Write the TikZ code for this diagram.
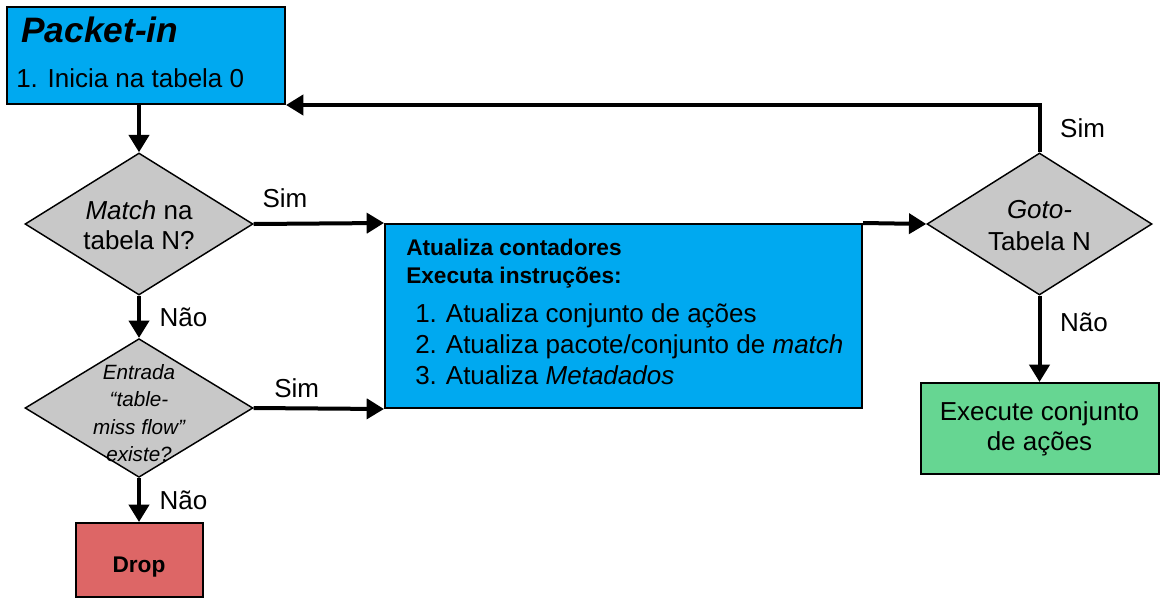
\documentclass[tikz,border=0pt]{standalone}
\usepackage{fontspec}
\setmainfont{Liberation Sans}
\usetikzlibrary{shapes.geometric,arrows.meta}

\definecolor{azul}{HTML}{00A9F0}
\definecolor{cinza}{HTML}{C8C8C8}
\definecolor{vermelho}{HTML}{DD6666}
\definecolor{verde}{HTML}{66D692}

\tikzset{
  caixa/.style = {rectangle, draw=black, line width=1.5pt, inner sep=0pt},% caixa base
  caixa_a/.style = {caixa, fill=azul},% caixa azul
  caixa_v/.style = {caixa, fill=verde, align=center,
    font=\fontsize{19.5}{22.5}\selectfont},% caixa verde
  caixa_r/.style = {caixa, fill=vermelho},% caixa vermelha
  decisao/.style = {diamond, draw=black, fill=cinza, line width=1.1pt, inner sep=0pt,
    minimum width=171pt, minimum height=106.5pt},% losango de decisao
  texto/.style = {inner sep=0pt, font=\fontsize{19.5}{22.5}\selectfont},% texto normal
  texto_b/.style = {inner sep=0pt, font=\bfseries\fontsize{17}{20}\selectfont},% texto negrito
  texto_d/.style = {inner sep=0pt, align=center, font=\fontsize{19.5}{22.5}\selectfont},% texto do losango
  rotulo/.style = {inner sep=1pt, font=\fontsize{19.5}{22.5}\selectfont},% Sim / Nao
  seta/.style = {line width=3pt, -{Triangle[length=13pt,width=15pt]}}
}

\begin{document}
\begin{tikzpicture}[x=0.75pt, y=-0.75pt]
  \useasboundingbox (0,0) rectangle (1170,607);

  % caixas
  \node [caixa_a, minimum width=208.5pt, minimum height=72.75pt] (packet) at (146,55.5) {};
  \node [inner sep=0pt, anchor=base west, font=\bfseries\itshape\fontsize{26.5}{30}\selectfont]
    (titulo) at (21,42) {Packet-in};
  \node [texto, anchor=base west] (inicia) at (16,87) {1. Inicia na tabela 0};

  \node [caixa_a, minimum width=357.75pt, minimum height=138pt] (acoes) at (623.5,316) {};
  \node [texto_b, anchor=base west] (contadores) at (406,255) {Atualiza contadores};
  \node [texto_b, anchor=base west] (instrucoes) at (406,283) {Executa instruções:};
  \node [texto, anchor=base west] (item1) at (415,322) {\makebox[23pt][l]{1.}Atualiza conjunto de ações};
  \node [texto, anchor=base west] (item2) at (415,353) {\makebox[23pt][l]{2.}Atualiza pacote/conjunto de \textit{match}};
  \node [texto, anchor=base west] (item3) at (415,384) {\makebox[23pt][l]{3.}Atualiza \textit{Metadados}};

  \node [caixa_v, minimum width=178.5pt, minimum height=68.25pt] (exec) at (1039.5,428.5)
    {Execute conjunto\\de ações};
  \node [caixa_r, minimum width=95.25pt, minimum height=55.5pt] (drop) at (139,560) {};
  \node [texto_b, anchor=base] (txt_drop) at (139,572) {Drop};

  % losangos
  \node [decisao] (match) at (139,224) {};
  \node [texto_d] (txt_match) at (139,225) {\textit{Match} na\\tabela N?};
  \node [decisao, minimum height=104pt] (tablemiss) at (139,408) {};
  \node [texto_d, font=\itshape\fontsize{15.5}{20.5}\selectfont] (txt_tablemiss) at (139,413)
    {Entrada\\“table-\\miss flow”\\existe?};
  \node [decisao, minimum width=168.75pt] (goto) at (1039.5,224) {};
  \node [texto_d, font=\fontsize{19.5}{24}\selectfont] (txt_goto) at (1039.5,226) {\textit{Goto-}\\Tabela N};

  % conectores
  \draw [seta] (match.north |- packet.south) -- (match.north);
  \draw [seta] (match.south) -- node [rotulo, right=13pt] (nao1) {Não} (tablemiss.north);
  \draw [seta] (tablemiss.south) -- node [rotulo, right=13pt] (nao2) {Não} (drop.north);
  \draw [seta] (match.east) -- node [rotulo, above=9.5pt, pos=0.24] (sim1) {Sim} (acoes.north west);
  \draw [seta] (tablemiss.east) -- node [rotulo, above=5.75pt, pos=0.33] (sim2) {Sim} (acoes.south west);
  \draw [seta] (acoes.north east) -- (goto.west);
  \draw [seta] (goto.north) |- node [rotulo, right=13pt, pos=0.25] (sim3) {Sim} (packet.south east);
  \draw [seta] (goto.south) -- node [rotulo, right=13pt, pos=0.31] (nao3) {Não} (exec.north);
\end{tikzpicture}
\end{document}
